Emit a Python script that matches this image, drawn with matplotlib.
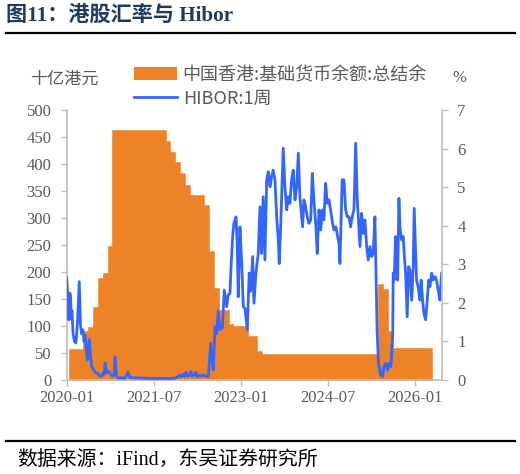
import matplotlib
matplotlib.use("Agg")
import matplotlib.pyplot as plt
from matplotlib.lines import Line2D
from matplotlib.patches import Patch
import pandas as pd

# ---------------- data ----------------
# Aggregate balance (HKD bn), one value per month starting 2020-01
balance_start = "2020-01"
balance_values = [58, 58, 58, 90, 99, 136, 188, 198, 248,
                  463, 463, 463, 463, 463, 463, 463, 463, 463, 463, 463,
                  442, 423, 403, 383, 362, 343, 343, 343, 325, 238, 170,
                  130, 130, 104, 100, 100, 100, 81, 81, 53,
                  48, 48, 48, 48, 48, 48, 48, 48, 48, 48, 48, 48,
                  48, 48, 48, 48, 48, 48, 48, 48, 48, 48, 48, 48,
                  178, 168, 91, 59, 59, 59, 59, 59, 59, 59, 59]

hibor_dates = [
 "2020-01-01","2020-01-06","2020-01-11","2020-01-15","2020-01-20","2020-01-25","2020-01-29",
 "2020-02-03","2020-02-10","2020-02-19","2020-02-28","2020-03-09","2020-03-20","2020-03-28",
 "2020-04-04","2020-04-12","2020-04-19","2020-04-25","2020-05-01","2020-05-10","2020-05-14",
 "2020-05-22","2020-05-30","2020-06-06","2020-06-14","2020-06-27","2020-07-08","2020-07-19",
 "2020-07-28","2020-08-10","2020-08-16","2020-08-24","2020-08-29","2020-09-04","2020-09-10",
 "2020-09-17","2020-09-29","2020-10-10","2020-10-18","2020-10-26","2020-10-31","2020-11-06",
 "2020-11-10","2020-11-19","2021-01-02","2021-01-22","2021-01-27","2021-02-02","2021-04-06",
 "2021-06-08","2021-08-10","2021-10-12","2021-11-12","2021-12-01","2021-12-13","2021-12-20",
 "2022-01-01","2022-01-11","2022-01-20","2022-01-30","2022-02-08","2022-02-21","2022-02-27",
 "2022-03-12","2022-03-24","2022-03-31","2022-04-18","2022-05-01","2022-05-14","2022-05-26",
 "2022-06-10","2022-06-25","2022-07-03","2022-07-11","2022-07-22","2022-08-01","2022-08-11",
 "2022-08-22","2022-09-06","2022-09-18","2022-10-03","2022-10-13","2022-10-24","2022-10-31",
 "2022-11-10","2022-11-18","2022-12-01","2022-12-09","2022-12-15","2022-12-26","2023-01-06",
 "2023-01-16","2023-01-27","2023-02-10","2023-02-22","2023-03-03","2023-03-16","2023-03-24",
 "2023-04-06","2023-04-20","2023-05-01","2023-05-11","2023-05-21","2023-06-01","2023-06-12",
 "2023-06-22","2023-07-03","2023-07-13","2023-07-23","2023-08-03","2023-08-14","2023-08-24",
 "2023-08-30","2023-09-08","2023-09-16","2023-09-24","2023-10-05","2023-10-16","2023-10-26",
 "2023-11-05","2023-11-16","2023-11-26","2023-12-07","2023-12-18","2023-12-28","2024-01-07",
 "2024-01-18","2024-01-24","2024-02-01","2024-02-12","2024-02-22","2024-03-04","2024-03-15",
 "2024-03-25","2024-04-04","2024-04-17","2024-04-25","2024-05-06","2024-05-17","2024-05-27",
 "2024-06-06","2024-06-17","2024-06-27","2024-07-08","2024-07-18","2024-07-31","2024-08-08",
 "2024-08-21","2024-08-31","2024-09-09","2024-09-15","2024-09-21","2024-09-29","2024-10-10",
 "2024-10-21","2024-10-31","2024-11-11","2024-11-21","2024-12-01","2024-12-12","2024-12-23",
 "2025-01-02","2025-01-12","2025-01-19","2025-01-29","2025-02-08","2025-02-19","2025-03-02",
 "2025-03-12","2025-03-23","2025-04-02","2025-04-12","2025-04-23","2025-04-29","2025-05-07",
 "2025-05-16","2025-05-29","2025-06-10","2025-06-19","2025-07-01","2025-07-12","2025-07-22",
 "2025-08-02","2025-08-13","2025-08-16","2025-08-22","2025-08-31","2025-09-06","2025-09-13",
 "2025-09-21","2025-09-27","2025-10-08","2025-10-18","2025-10-24","2025-11-02","2025-11-12",
 "2025-11-21","2025-11-29","2025-12-10","2025-12-20","2025-12-26","2026-01-02","2026-01-10",
 "2026-01-20","2026-01-31","2026-02-08","2026-02-17","2026-02-25","2026-03-08","2026-03-18",
 "2026-03-27","2026-04-04","2026-04-15","2026-04-25","2026-05-06","2026-05-16","2026-05-26",
 "2026-06-06","2026-06-17"]
hibor_values = [
 2.64, 2.3, 2.07, 1.56, 2.25, 2.2, 1.6,
 1.8, 1.2, 1.0, 0.96, 1.5, 2.55, 1.4,
 1.2, 1.3, 1.0, 1.15, 0.9, 0.52, 0.75,
 1.04, 0.6, 0.35, 0.3, 0.2, 0.18, 0.15,
 0.09, 0.1, 0.18, 0.15, 0.44, 0.3, 0.2,
 0.22, 0.18, 0.12, 0.1, 0.15, 0.6, 0.3,
 0.08, 0.06, 0.05, 0.2, 0.12, 0.06, 0.05,
 0.04, 0.04, 0.04, 0.05, 0.08, 0.13, 0.08,
 0.15, 0.1, 0.2, 0.1, 0.12, 0.22, 0.1,
 0.13, 0.2, 0.08, 0.12, 0.1, 0.13, 0.1,
 0.09, 0.96, 0.5, 0.26, 1.38, 1.2, 1.8,
 1.3, 1.35, 2.33, 1.9, 2.2, 2.25, 2.94,
 3.72, 4.06, 4.23, 3.5, 2.16, 3.97, 3.0,
 1.9, 1.85, 1.30, 2.77, 2.3, 3.2, 1.99,
 2.8, 3.28, 4.49, 3.28, 4.75, 3.11, 5.19,
 5.40, 5.01, 5.27, 5.44, 5.19, 4.23, 3.63,
 3.02, 3.97, 5.01, 6.01, 5.01, 4.41, 4.75,
 4.58, 5.19, 5.44, 4.67, 5.01, 5.88, 4.75,
 4.23, 3.97, 4.67, 4.49, 4.23, 4.06, 4.15,
 5.36, 4.67, 3.97, 3.28, 4.41, 3.89, 4.41,
 4.15, 5.10, 4.58, 4.67, 4.41, 4.06, 3.89,
 3.97, 3.72, 3.54, 3.02, 3.97, 5.19, 5.19,
 4.41, 4.23, 4.23, 3.97, 4.23, 4.41, 6.14,
 4.67, 3.97, 3.46, 4.32, 3.80, 4.15, 3.46,
 3.11, 3.46, 3.20, 3.28, 4.23, 2.94, 1.21,
 0.43, 0.13, 0.09, 0.35, 0.43, 0.26, 0.43,
 0.35, 1.21, 2.77, 2.59, 3.72, 2.94, 2.59,
 4.71, 3.97, 3.63, 3.72, 3.28, 2.77, 1.64,
 2.94, 2.85, 2.07, 2.94, 4.45, 3.54, 2.59,
 2.42, 2.07, 2.59, 2.07, 1.73, 1.56, 2.07,
 2.59, 2.42, 2.77, 2.59, 2.68, 2.59, 2.33,
 2.07, 2.77]

left_ticks = list(range(0, 501, 50))
right_ticks = list(range(0, 8))
x_tick_labels = ["2020-01", "2021-07", "2023-01", "2024-07", "2026-01"]

title_text = "图11：港股汇率与 Hibor"
source_text = "数据来源：iFind，东吴证券研究所"
left_unit = "十亿港元"
right_unit = "%"
label_balance = "中国香港:基础货币余额:总结余"
label_hibor = "HIBOR:1周"

# ---------------- styles ----------------
ORANGE = "#ED8226"
BLUE = "#3366FF"
GREY = "#595959"
SPINE = "#BFBFBF"
NAVY = "#1F3864"
SERIF = ["Liberation Serif", "Noto Sans CJK SC"]
SANS = ["Noto Sans CJK SC", "DejaVu Sans"]

fig = plt.figure(figsize=(5.2, 4.74), dpi=100)
W, H = 520, 474
ax = fig.add_axes([66.7 / W, 1 - 380 / H, (442 - 66.7) / W, (380 - 110) / H])
ax2 = ax.twinx()

# bars (monthly step area)
n = len(balance_values)
edges = pd.date_range(balance_start + "-01", periods=n + 1, freq="MS") + pd.Timedelta(days=14)
ax.fill_between(edges, balance_values + [balance_values[-1]], step="post",
                facecolor=ORANGE, edgecolor=ORANGE, linewidth=0.4)

hd = pd.to_datetime(hibor_dates)
ax2.plot(hd, hibor_values, color=BLUE, linewidth=2.0, solid_joinstyle="round")

ax.set_xlim(pd.Timestamp("2020-01-01"), pd.Timestamp("2026-06-19"))
ax.set_ylim(0, 500)
ax2.set_ylim(0, 7)
ax.set_yticks(left_ticks)
ax2.set_yticks(right_ticks)
ax.set_xticks(pd.to_datetime([s + "-01" for s in x_tick_labels]))
ax.set_xticklabels(x_tick_labels)

for a in (ax, ax2):
    a.spines["top"].set_visible(False)
    for s in ("left", "right", "bottom"):
        a.spines[s].set_color(SPINE)
        a.spines[s].set_linewidth(1.2)
    a.tick_params(colors=GREY, labelsize=12, length=4, width=1.0, color=SPINE)
    for lab in a.get_yticklabels() + a.get_xticklabels():
        lab.set_fontfamily(SERIF)
ax.spines["right"].set_visible(False)
ax2.spines["left"].set_visible(False)
ax2.spines["bottom"].set_visible(False)
ax.tick_params(axis="y", pad=7)
ax2.tick_params(axis="y", pad=7)
ax.tick_params(axis="x", pad=3)

# units
fig.text(30 / W, 1 - 79 / H, left_unit, fontsize=12.3, color=GREY, family=SANS,
         ha="left", va="center")
fig.text(452 / W, 1 - 78 / H, right_unit, fontsize=12, color=GREY, family=SERIF,
         ha="left", va="center")

# legend
handles = [Patch(facecolor=ORANGE, edgecolor="none", label=label_balance),
           Line2D([0], [0], color=BLUE, lw=2.0, label=label_hibor)]
fig.legend(handles=handles, loc="upper left", bbox_to_anchor=(134 / W, 1 - 66 / H),
           frameon=False, prop={"family": SANS, "size": 13}, labelcolor=GREY,
           handlelength=2.4, handleheight=0.75, handletextpad=0.3, labelspacing=0.3,
           borderaxespad=0, borderpad=0)

# title, rules, source
fig.text(6 / W, 1 - 16 / H, title_text, fontsize=15.2, fontweight="bold", color=NAVY,
         family=SERIF, ha="left", va="center")
fig.add_artist(Line2D([6 / W, 515 / W], [1 - 33 / H] * 2, transform=fig.transFigure,
                      color="black", linewidth=1.6))
fig.add_artist(Line2D([6 / W, 515 / W], [1 - 441 / H] * 2, transform=fig.transFigure,
                      color="black", linewidth=1.6))
fig.text(17 / W, 1 - 460 / H, source_text, fontsize=14.3, color="black",
         family=SERIF, ha="left", va="center")

fig.savefig("out.png", dpi=100)
